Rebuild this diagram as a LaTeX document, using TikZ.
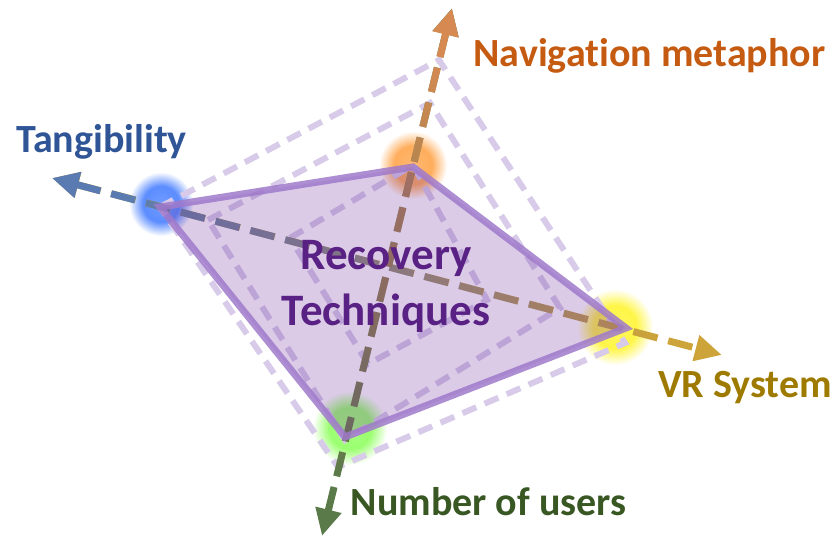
\documentclass[tikz,border=0pt]{standalone}
\usepackage{fontspec}
\setmainfont{Carlito}[Ligatures={NoCommon,NoContextual}, Contextuals={NoAlternate}, RawFeature=-dlig]
\usetikzlibrary{
	arrows.meta,
	fadings,
	positioning,
}

\definecolor{tanblue}{HTML}{5A7BB2}
\definecolor{tantext}{HTML}{2F5597}
\definecolor{navorange}{HTML}{D68A52}
\definecolor{navtext}{HTML}{C55A11}
\definecolor{vrgold}{HTML}{CDA43A}
\definecolor{vrtext}{HTML}{9E7A00}
\definecolor{usrgreen}{HTML}{5A7A4A}
\definecolor{usrtext}{HTML}{385723}
\definecolor{rtpurple}{HTML}{7030A0}
\definecolor{rtedge}{HTML}{A07ACB}
\definecolor{rttext}{HTML}{5A2184}
\definecolor{gridpurple}{HTML}{D8CBE9}

% fadings for the two-coloured axes
\pgfdeclarehorizontalshading{tanfadeshade}{100bp}{color(0bp)=(white); color(30bp)=(white); color(70bp)=(black); color(100bp)=(black)}
\pgfdeclarefading{tan fade}{\pgfuseshading{tanfadeshade}}
\pgfdeclareverticalshading{navfadeshade}{100bp}{color(0bp)=(black); color(30bp)=(black); color(70bp)=(white); color(100bp)=(white)}
\pgfdeclarefading{nav fade}{\pgfuseshading{navfadeshade}}
\pgfdeclareradialshading{glowshade}{\pgfpoint{0bp}{0bp}}{color(0bp)=(white!70!black); color(14bp)=(white!80!black); color(25bp)=(black); color(50bp)=(black)}
\pgfdeclarefading{glow fade}{\pgfuseshading{glowshade}}

\tikzset{axis/.style={
	line width=7pt,
	dash pattern=on 25pt off 11pt,
	{Triangle[length=27pt,width=25pt]}-{Triangle[length=27pt,width=25pt]},
}}
\tikzset{grid line/.style={
	gridpurple,
	line width=6pt,
	dash pattern=on 15pt off 9pt,
}}
\tikzset{glow/.style={
	path fading=glow fade,
}}
\tikzset{rt poly/.style={
	fill=rtpurple,
	fill opacity=0.25,
	draw=rtedge,
	draw opacity=0.85,
	line width=7pt,
}}
\tikzset{axis label/.style={
	font=\fontsize{40}{46}\selectfont\bfseries,
	inner sep=0pt,
	anchor=base,
}}

\begin{document}
\begin{tikzpicture}[x=1pt, y=-1pt]
\useasboundingbox (0,0) rectangle (837,537);

% axis ends
\coordinate (tanend) at (52,178);
\coordinate (vrend)  at (722,355);
\coordinate (navend) at (452,8);
\coordinate (usrend) at (322,536);

% corners of the technique
\coordinate (tan) at (160,207);
\coordinate (nav) at (413,167);
\coordinate (vr)  at (626,328);
\coordinate (usr) at (345,437);

% glows
\fill[glow, blue!70!cyan!80!white]     (161,204) circle (32);
\fill[glow, orange!80!white]           (413,165) circle (34);
\fill[glow, yellow!90!white]           (615,327) circle (38);
\fill[glow, green!60!lime!70!white]    (350,428) circle (37);

% other techniques
\draw[grid line] (160,207) -- (439,60) -- (625,343) -- (338,467) -- cycle;
\draw[grid line] (208,220) -- (430,103) -- (560,308) -- (345,440) -- cycle;
\draw[grid line] (290,238) -- (413,165) -- (487,300) -- (368,364) -- cycle;

% Tangibility -- VR System
\draw[axis, vrgold] (tanend) -- (vrend);
\draw[axis, tanblue, path fading=tan fade] (tanend) -- (vrend);

% Navigation metaphor -- Number of users
\draw[axis, usrgreen] (navend) -- (usrend);
\draw[axis, navorange, path fading=nav fade] (navend) -- (usrend);

% the technique
\filldraw[rt poly] (tan) -- (nav) -- (vr) -- (usr) -- cycle;

\node[font=\fontsize{45}{56}\selectfont\bfseries, align=center, rttext, inner sep=0pt]
	(rt) at (386,286) {Recovery\\Techniques};

% labels
\node[axis label, tantext] (tanlab) at (101.5,152.5) {Tangibility};
\node[axis label, navtext] (navlab) at (649.5,67) {Navigat\kern0pt ion metaphor};
\node[axis label, vrtext]  (vrlab)  at (745,397.5) {VR System};
\node[axis label, usrtext] (usrlab) at (488.5,515.5) {Number of users};

\end{tikzpicture}
\end{document}
